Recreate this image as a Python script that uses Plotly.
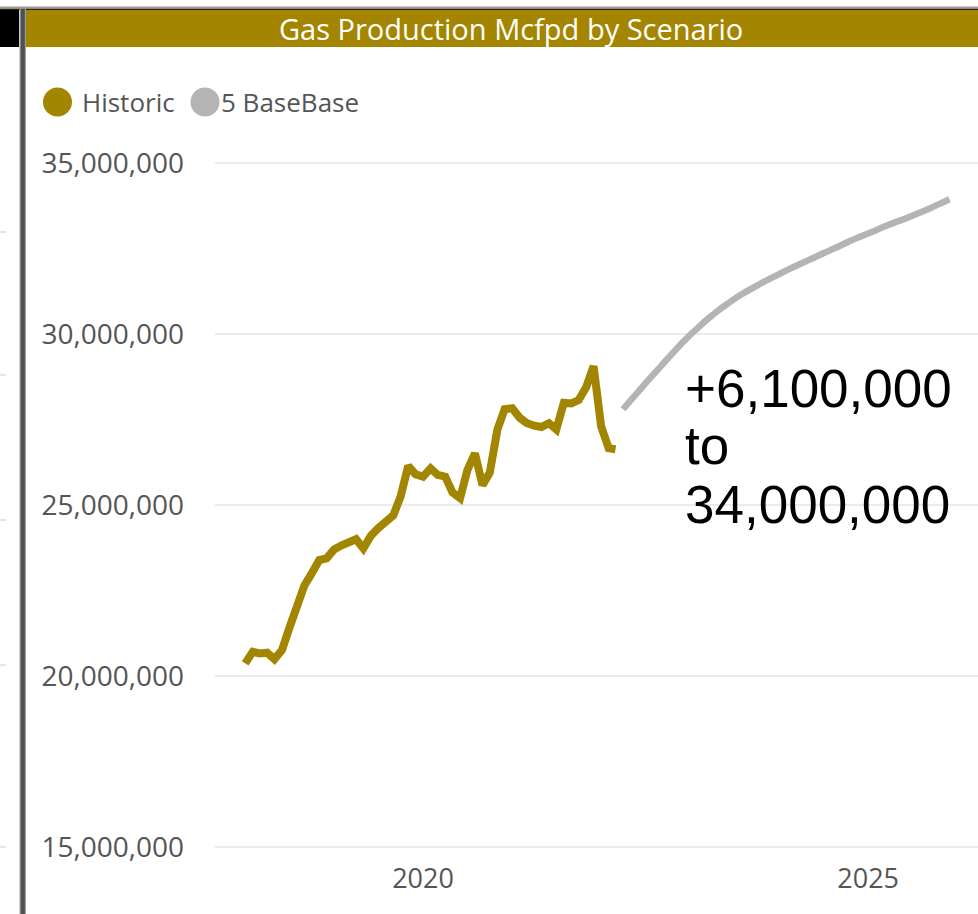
import pandas as pd
import plotly.graph_objects as go

W, H = 978, 914
OFF = 0  # body margin removed via post_script below

title_text = "Gas Production Mcfpd by Scenario"
series_names = ["Historic", "5 BaseBase"]
series_colors = ["#A28500", "#B4B4B4"]

# Historic monthly gas production (million Mcfpd), Jan 2018 - Mar 2022
hist_start = "2018-01-01"
hist_mmcfpd = [20.37, 20.71, 20.66, 20.68, 20.49, 20.76, 21.40, 22.05, 22.65, 23.00,
               23.39, 23.44, 23.70, 23.82, 23.93, 24.00, 23.73, 24.10, 24.32, 24.48,
               24.70, 25.25, 26.14, 25.90, 25.83, 26.07, 25.88, 25.83, 25.37, 25.20,
               26.02, 26.51, 25.58, 25.95, 27.20, 27.80, 27.83, 27.55, 27.40, 27.32,
               27.28, 27.39, 27.21, 27.99, 27.97, 28.07, 28.45, 29.06, 27.30, 26.66,
               26.63]

# Scenario "5 BaseBase" forecast (million Mcfpd), Apr 2022 - Dec 2025
fc_start = "2022-04-01"
fc_mmcfpd = [27.80, 28.05, 28.30, 28.55, 28.80, 29.04, 29.28, 29.52, 29.75, 29.97,
             30.17, 30.36, 30.54, 30.71, 30.87, 31.02, 31.16, 31.29, 31.41, 31.53,
             31.64, 31.75, 31.86, 31.96, 32.06, 32.16, 32.26, 32.36, 32.46, 32.56,
             32.66, 32.76, 32.85, 32.94, 33.03, 33.12, 33.21, 33.29, 33.37, 33.46,
             33.55, 33.64, 33.74, 33.84, 33.94]

y_ticks = [15_000_000, 20_000_000, 25_000_000, 30_000_000, 35_000_000]
x_ticks = ["2020-01-01", "2025-01-01"]
x_ticktext = ["2020", "2025"]
annotation_lines = ["+6,100,000", "to", "34,000,000"]

UNIT = 1_000_000
hist_x = pd.date_range(hist_start, periods=len(hist_mmcfpd), freq="MS")
fc_x = pd.date_range(fc_start, periods=len(fc_mmcfpd), freq="MS")

fig = go.Figure()
fig.add_trace(go.Scatter(x=fc_x, y=[v * UNIT for v in fc_mmcfpd], mode="lines",
                         name=series_names[1], showlegend=False,
                         line=dict(color=series_colors[1], width=6.5, shape="spline", smoothing=0.5)))
fig.add_trace(go.Scatter(x=hist_x, y=[v * UNIT for v in hist_mmcfpd], mode="lines",
                         name=series_names[0], showlegend=False,
                         line=dict(color=series_colors[0], width=8)))


def px(x):
    return (x - OFF) / W


def py(y):
    return 1 - (y - OFF) / H


shapes = []
# top thin grey line
shapes.append(dict(type="line", xref="paper", yref="paper", x0=0, x1=1, y0=py(7.2), y1=py(7.2),
                   line=dict(color="#9A9A9A", width=1.5)))
# black strip top left
shapes.append(dict(type="rect", xref="paper", yref="paper", x0=0, x1=px(19), y0=py(47), y1=py(9),
                   fillcolor="#000000", line=dict(width=0)))
# gold title bar
shapes.append(dict(type="rect", xref="paper", yref="paper", x0=px(26), x1=1, y0=py(47), y1=py(9.5),
                   fillcolor="#A38500", line=dict(width=0)))
shapes.append(dict(type="line", xref="paper", yref="paper", x0=0, x1=1, y0=py(9.2), y1=py(9.2),
                   line=dict(color="#2A2200", width=1.5)))
# vertical border
shapes.append(dict(type="rect", xref="paper", yref="paper", x0=px(19.5), x1=px(26), y0=0, y1=py(9),
                   fillcolor="#9A9A9A", line=dict(width=0)))
shapes.append(dict(type="rect", xref="paper", yref="paper", x0=px(20.8), x1=px(24.8), y0=0, y1=py(9),
                   fillcolor="#505050", line=dict(width=0)))
# faint gridline stubs of neighbouring visual
for yy in [232, 375, 520, 665, 847]:
    shapes.append(dict(type="line", xref="paper", yref="paper", x0=0, x1=px(6), y0=py(yy), y1=py(yy),
                       line=dict(color="#E6E6E6", width=2)))
# legend circles
legend_cx = [57.5, 205]
for cx, col in zip(legend_cx, series_colors):
    r = 14.5
    shapes.append(dict(type="circle", xref="paper", yref="paper",
                       x0=px(cx - r), x1=px(cx + r), y0=py(102 + r), y1=py(102 - r),
                       fillcolor=col, line=dict(width=0)))

annotations = []
annotations.append(dict(text=title_text, xref="paper", yref="paper", x=px(511), y=py(29),
                        xanchor="center", yanchor="middle", showarrow=False,
                        font=dict(family="Open Sans", size=29, color="#FFFFFF")))
legend_tx = [83, 222]
for tx, name in zip(legend_tx, series_names):
    annotations.append(dict(text=name, xref="paper", yref="paper", x=px(tx - 3), y=py(102),
                            xanchor="left", yanchor="middle", showarrow=False,
                            font=dict(family="Open Sans", size=26, color="#555555")))
for i, line in enumerate(annotation_lines):
    annotations.append(dict(text=line, xref="paper", yref="paper", x=px(683), y=py(388 + 58 * i),
                            xanchor="left", yanchor="middle", showarrow=False,
                            font=dict(family="Liberation Sans, Arial", size=53, color="#000000")))

fig.update_layout(
    width=W, height=H,
    margin=dict(l=0, r=0, t=0, b=0, autoexpand=False),
    paper_bgcolor="#FFFFFF", plot_bgcolor="#FFFFFF",
    showlegend=False,
    shapes=shapes,
    annotations=annotations,
    xaxis=dict(
        type="date",
        domain=[px(215), 1],
        range=["2017-08-30", "2026-03-28"],
        tickvals=x_ticks, ticktext=x_ticktext,
        showgrid=False, zeroline=False, showline=False, automargin=False,
        ticks="", ticklabelstandoff=10,
        tickfont=dict(family="Open Sans", size=27, color="#555555"),
    ),
    yaxis=dict(
        domain=[py(850.4), py(159.6)],
        range=[14_900_000, 35_100_000],
        tickvals=y_ticks, tickformat=",d",
        showgrid=True, gridcolor="#EBEBEB", gridwidth=2,
        zeroline=False, showline=False, automargin=False,
        ticks="", ticklabelstandoff=30,
        tickfont=dict(family="Open Sans", size=28, color="#555555"),
    ),
)

fig.write_html("out.html", config={"displayModeBar": False},
               post_script="document.body.style.margin='0px';document.body.style.overflow='hidden';")
